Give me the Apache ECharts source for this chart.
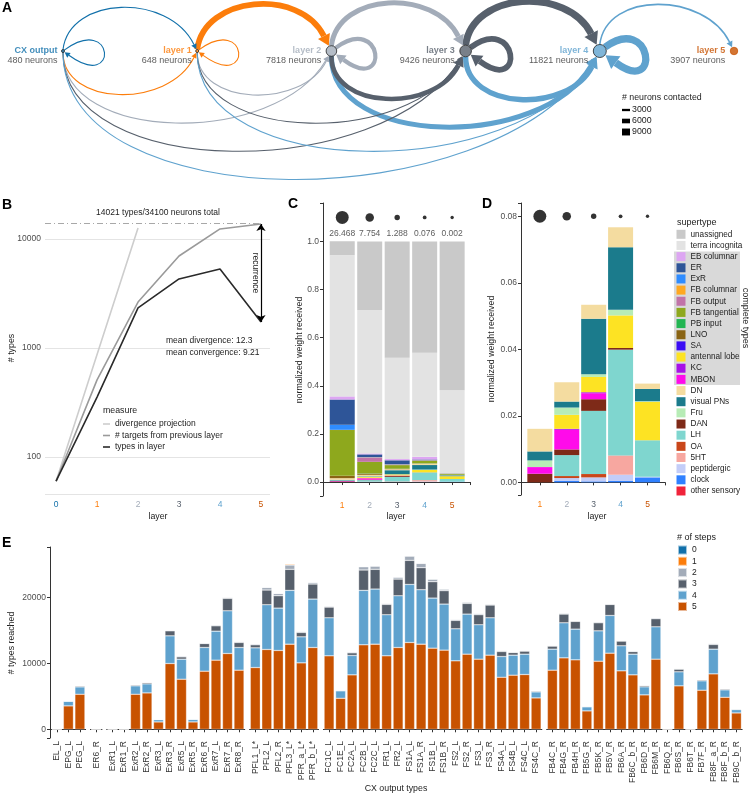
<!DOCTYPE html>
<html>
<head>
<meta charset="utf-8">
<script src="https://cdn.jsdelivr.net/npm/echarts@6.0.0/dist/echarts.min.js"></script>
<style>
html,body{margin:0;padding:0;background:#fff;}
#chart{width:749px;height:795px;}
</style>
</head>
<body>
<div id="chart"></div>
<script>
// ================= DATA =================
// Panel A : layers and connections
const layerNames = ['CX output', 'layer 1', 'layer 2', 'layer 3', 'layer 4', 'layer 5'];
const layerNeurons = [480, 648, 7818, 9426, 11821, 3907];
const edgeFrom    = [0, 0, 1, 1, 1, 2, 2, 2, 2, 3, 3, 3, 3, 3, 4, 4, 4, 4, 4, 4];
const edgeTo      = [0, 1, 0, 1, 2, 0, 1, 2, 3, 0, 1, 2, 3, 4, 0, 1, 2, 3, 4, 5];
const edgeNeurons = [1400, 1400, 1400, 1400, 7500, 1400, 1400, 5500, 6500, 1400, 1400, 6000, 7500, 9000, 1400, 1400, 6500, 7000, 9500, 2000];
const widthLegendValues = [3000, 6000, 9000];

// Panel B : types per layer (log scale)
const bLayers = [0, 1, 2, 3, 4, 5];
const typesInLayer = [60, 355, 2330, 4300, 5300, 1730];
const targetsFromPrevious = [60, 510, 2640, 6980, 12360, 13730];
const divergenceProjection = [60, 870, 12600];
const totalTypes = 14021;

// Panels C and D : normalized weight received per supertype, layers 1..5
const cdLayers = [1, 2, 3, 4, 5];
const meanWeight = [26.468, 7.754, 1.288, 0.076, 0.002];
const unassigned     = [0.058, 0.285, 0.483, 0.462, 0.618];
const terraIncognita = [0.5869, 0.596, 0.4216, 0.4333, 0.345];
const ebColumnar     = [0.013, 0.004, 0.005, 0.011, 0.001];
const er             = [0.105, 0.011, 0.016, 0.003, 0.0002];
const exr            = [0.021, 0.001, 0.001, 0.0005, 0.0003];
const fbColumnar     = [0.001, 0.001, 0.001, 0.001, 0];
const fbOutput       = [0, 0.018, 0.002, 0.001, 0.0003];
const fbTangential   = [0.190, 0.0479, 0.015, 0.010, 0.005];
const pbInput        = [0, 0.001, 0.001, 0.0005, 0];
const lno            = [0.010, 0.005, 0.001, 0.001, 0.0005];
const sa             = [0, 0, 0, 0, 0];
const antennalLobe   = [0, 0.0042, 0.0046, 0.0098, 0.0115];
const kc             = [0, 0.0003, 0.0003, 0, 0];
const mbon           = [0.002, 0.0059, 0.0018, 0, 0];
const dn             = [0.0068, 0.0058, 0.0042, 0.006, 0.0016];
const visualPNs      = [0.0027, 0.0018, 0.0167, 0.0188, 0.0037];
const fru            = [0.002, 0.0022, 0.0008, 0.0017, 0.0002];
const dan            = [0.0026, 0.0017, 0.0035, 0.0005, 0];
const lh             = [0, 0.0063, 0.019, 0.0318, 0.011];
const oa             = [0, 0.0006, 0.001, 0, 0];
const ht5            = [0, 0, 0, 0.0058, 0];
const peptidergic    = [0, 0.0008, 0.0012, 0.0018, 0.0002];
const clock          = [0, 0.0005, 0.0003, 0.0005, 0.0015];
const otherSensory   = [0, 0, 0, 0, 0];

const supertypeNames = ['unassigned', 'terra incognita', 'EB columnar', 'ER', 'ExR', 'FB columnar', 'FB output',
  'FB tangential', 'PB input', 'LNO', 'SA', 'antennal lobe', 'KC', 'MBON', 'DN', 'visual PNs', 'Fru', 'DAN',
  'LH', 'OA', '5HT', 'peptidergic', 'clock', 'other sensory'];
const supertypeValues = {
  'unassigned': unassigned, 'terra incognita': terraIncognita, 'EB columnar': ebColumnar, 'ER': er, 'ExR': exr,
  'FB columnar': fbColumnar, 'FB output': fbOutput, 'FB tangential': fbTangential, 'PB input': pbInput, 'LNO': lno,
  'SA': sa, 'antennal lobe': antennalLobe, 'KC': kc, 'MBON': mbon, 'DN': dn, 'visual PNs': visualPNs, 'Fru': fru,
  'DAN': dan, 'LH': lh, 'OA': oa, '5HT': ht5, 'peptidergic': peptidergic, 'clock': clock, 'other sensory': otherSensory
};
// stacking order, bottom to top
const stackOrder = ['other sensory', 'clock', 'peptidergic', '5HT', 'OA', 'LH', 'DAN', 'MBON', 'KC', 'antennal lobe',
  'Fru', 'visual PNs', 'DN', 'SA', 'LNO', 'PB input', 'FB tangential', 'FB output', 'FB columnar', 'ExR', 'ER',
  'EB columnar', 'terra incognita', 'unassigned'];
const dTypes = stackOrder.slice(0, 13);

// Panel E : types reached by number of steps
const eCategories = ['EL_L', 'EPG_L', 'PEG_L', 'ER6_R',
  'ExR1_L', 'ExR1_R', 'ExR2_L', 'ExR2_R', 'ExR3_L', 'ExR3_R', 'ExR5_L', 'ExR5_R', 'ExR6_R', 'ExR7_L', 'ExR7_R', 'ExR8_R',
  'PFL1_L*', 'PFL2_L', 'PFL2_R', 'PFL3_L*', 'PFR_a_L*', 'PFR_b_L*',
  'FC1C_L', 'FC1E_L', 'FC2A_L', 'FC2B_L', 'FC2C_L', 'FR1_L', 'FR2_L', 'FS1A_L', 'FS1A_R', 'FS1B_L', 'FS1B_R', 'FS2_L',
  'FS2_R', 'FS3_L', 'FS3_R', 'FS4A_L', 'FS4B_L', 'FS4C_L', 'FS4C_R',
  'FB4C_R', 'FB4G_R', 'FB4H_R', 'FB5G_R', 'FB5K_R', 'FB5V_R', 'FB6A_R', 'FB6C_b_R', 'FB6D_R', 'FB6M_R', 'FB6Q_R',
  'FB6S_R', 'FB6T_R', 'FB7F_R', 'FB8F_a_R', 'FB8F_b_R', 'FB9C_b_R'];
const eGroupSizes = [3, 1, 12, 6, 19, 17];
const steps5 = [60, 3550, 5320, 60, 60, 60, 5320, 5520, 1115, 9980, 7600, 1115, 8815, 10490, 11500, 8970,
  9370, 12110, 11960, 12920, 10080, 12410,
  11150, 4710, 8260, 12820, 12920, 11150, 12410, 13170, 12920, 12310, 12010, 10390, 11400, 10640, 11250, 7900, 8210, 8310, 4760,
  8970, 10840, 10540, 2790, 10330, 11550, 8870, 8260, 5220, 10640, 60, 6590, 60, 5930, 8410, 4860, 2480];
const steps4 = [0, 700, 1110, 0, 0, 0, 1270, 1370, 350, 4200, 3040, 400, 3600, 4400, 6480, 3440,
  2990, 6790, 6430, 8160, 3950, 7350,
  5770, 1120, 2940, 8260, 8360, 6230, 7850, 8810, 8260, 7600, 6990, 4860, 6080, 5220, 5670, 3140, 3040, 3090, 910,
  3190, 5320, 4660, 610, 4610, 5720, 3800, 3140, 1220, 4910, 0, 2130, 0, 1420, 3750, 1120, 510];
const steps3 = [0, 60, 150, 0, 0, 0, 150, 200, 50, 760, 350, 50, 600, 810, 1880, 760,
  460, 2230, 1870, 3190, 660, 2280,
  1620, 100, 400, 3090, 2990, 1570, 2530, 3650, 3340, 2480, 2030, 1270, 1620, 1520, 1930, 760, 400, 460, 150,
  460, 1320, 1170, 100, 1220, 1670, 710, 400, 200, 1220, 0, 400, 0, 150, 710, 150, 100];
const steps2 = [0, 20, 50, 0, 0, 0, 40, 40, 20, 100, 150, 20, 100, 150, 150, 150,
  150, 400, 350, 650, 150, 250,
  150, 30, 150, 500, 500, 150, 300, 660, 660, 400, 250, 150, 200, 200, 150, 150, 100, 100, 40,
  100, 150, 100, 20, 150, 100, 100, 100, 50, 150, 0, 100, 0, 50, 150, 50, 20];
const steps1 = [0, 0, 0, 0, 0, 0, 0, 0, 0, 10, 10, 0, 10, 10, 10, 10,
  10, 20, 20, 150, 10, 20,
  10, 0, 10, 20, 20, 10, 20, 30, 30, 20, 20, 10, 10, 10, 10, 10, 10, 10, 0,
  10, 10, 10, 0, 10, 10, 10, 10, 0, 10, 0, 10, 0, 0, 10, 0, 0];
const steps0 = eCategories.map(() => 1);
const stepValues = {'0': steps0, '1': steps1, '2': steps2, '3': steps3, '4': steps4, '5': steps5};

// ================= STYLE =================
const FONT = '"Liberation Sans", Arial, Helvetica, sans-serif';
const layerColors = ['#1170aa', '#fc7d0b', '#a3acb9', '#57606c', '#5fa2ce', '#c85200'];
const stepColors = {'0': '#1170aa', '1': '#fc7d0b', '2': '#a3acb9', '3': '#57606c', '4': '#5fa2ce', '5': '#c85200'};
const supertypeColors = {
  'unassigned': '#c9c9c9', 'terra incognita': '#e3e3e3', 'EB columnar': '#dda6f2', 'ER': '#2e5598', 'ExR': '#2f8cff',
  'FB columnar': '#ffa820', 'FB output': '#c173a8', 'FB tangential': '#8ea81d', 'PB input': '#22b552', 'LNO': '#8a6414',
  'SA': '#3a0cf5', 'antennal lobe': '#fde323', 'KC': '#a711e8', 'MBON': '#ff0bea', 'DN': '#f4dca0',
  'visual PNs': '#1b7b8c', 'Fru': '#b7ecb6', 'DAN': '#7e2a18', 'LH': '#7fd6cf', 'OA': '#c9461a', '5HT': '#f7a7a0',
  'peptidergic': '#c3cdf8', 'clock': '#2f80ff', 'other sensory': '#f0233a'
};

function nodeSize(n) { return Math.max(3, 0.12 * Math.sqrt(n)); }
function nodeR(i) { return nodeSize(layerNeurons[i]) / 2; }
function edgeW(n) { return Math.max(1.1, n / 1300); }
function unit(v) { const l = Math.hypot(v[0], v[1]) || 1; return [v[0] / l, v[1] / l]; }

function renderEdge(params, api) {
  const s = api.value(0), t = api.value(1), n = api.value(2);
  const cs = api.coord([s, 0]), ct = api.coord([t, 0]);
  const w = edgeW(n), col = layerColors[s];
  const al = 4 + 1.2 * w, aw = 2 + 0.8 * w;
  let P0, P1, P2, C, rA;
  if (s === t) {
    const x = cs[0], y = cs[1], r = nodeR(s);
    P1 = [x + 52, y - 38]; P2 = [x + 52, y + 38];
    const u0 = unit([P1[0] - x, P1[1] - y]);
    P0 = [x + u0[0] * r, y + u0[1] * r];
    C = cs; rA = r;
  } else if (t > s) {
    const dx = ct[0] - cs[0], h = 0.3 * dx, y = cs[1], r0 = nodeR(s);
    P0 = [cs[0], y - r0]; P1 = [cs[0] + 0.05 * dx, y - r0 - 4 / 3 * h]; P2 = [ct[0] - 0.2 * dx, y - 4 / 3 * h];
    C = ct; rA = nodeR(t);
  } else {
    const xl = ct[0], xr = cs[0], dx = xr - xl, h = 12 + 0.21 * dx, y = cs[1], rl = nodeR(t);
    P0 = [xl, y + rl]; P1 = [xl, y + rl + 4 / 3 * h]; P2 = [xr - 0.2 * dx, y + 4 / 3 * h];
    C = cs; rA = nodeR(s);
  }
  const u = unit([P2[0] - C[0], P2[1] - C[1]]);
  const tip = [C[0] + u[0] * (rA + 0.5), C[1] + u[1] * (rA + 0.5)];
  const d = unit([tip[0] - P2[0], tip[1] - P2[1]]);
  const base = [tip[0] - d[0] * al, tip[1] - d[1] * al];
  const P2b = [P2[0] - d[0] * al, P2[1] - d[1] * al];
  const nr = [-d[1], d[0]];
  return {
    type: 'group', children: [
      {type: 'bezierCurve', shape: {x1: P0[0], y1: P0[1], cpx1: P1[0], cpy1: P1[1], cpx2: P2b[0], cpy2: P2b[1], x2: base[0], y2: base[1]},
        style: {stroke: col, lineWidth: w, fill: 'none'}},
      {type: 'polygon', shape: {points: [tip, [base[0] + nr[0] * aw, base[1] + nr[1] * aw], [base[0] - nr[0] * aw, base[1] - nr[1] * aw]]},
        style: {fill: col}}
    ]
  };
}

function txt(text, x, y, o) {
  o = o || {};
  return {type: 'text', x: x, y: y, rotation: o.rot || 0, z: 10, silent: true,
    style: {text: text, fill: o.color || '#222', fontSize: o.size || 8.5, fontFamily: FONT, fontWeight: o.weight || 'normal',
      align: o.align || 'center', verticalAlign: 'middle'}};
}

// ================= LAYOUT =================
const grids = [
  {left: 63, top: 0, width: 671, height: 102},          // A
  {left: 45, top: 205, width: 225, height: 289},        // B
  {left: 323, top: 203, width: 147, height: 293},       // C
  {left: 521, top: 203, width: 144, height: 292}        // D
];
const eSpacing = 11.5, eGap = 2.5;
let panelLeft = 50;
const eGridIdx = [];
eGroupSizes.forEach((n) => {
  eGridIdx.push(grids.length);
  grids.push({left: panelLeft + 0.1 * eSpacing, top: 547, width: n * eSpacing, height: 191});
  panelLeft += (n + 0.2) * eSpacing + eGap;
});

const axisTxt = {fontFamily: FONT, fontSize: 8.5, color: '#4d4d4d'};
const layerRich = {};
layerColors.forEach((c, i) => { layerRich['l' + i] = {color: c, fontSize: 8.5, fontFamily: FONT}; });

const xAxes = [
  {gridIndex: 0, type: 'value', min: 0, max: 5, show: false},
  {gridIndex: 1, type: 'value', min: -0.27, max: 5.22, splitNumber: 5,
    axisLine: {show: false}, axisTick: {show: false}, splitLine: {show: false},
    axisLabel: {margin: 6, formatter: v => Number.isInteger(v) ? '{l' + v + '|' + v + '}' : '', rich: layerRich}},
  {gridIndex: 2, type: 'value', min: 0.3, max: 5.65, splitNumber: 5,
    axisLine: {show: true, lineStyle: {color: '#333', width: 1}}, axisTick: {show: true, length: 3, lineStyle: {color: '#333'}},
    splitLine: {show: false},
    axisLabel: {margin: 5, formatter: v => Number.isInteger(v) ? '{l' + v + '|' + v + '}' : '', rich: layerRich}},
  {gridIndex: 3, type: 'value', min: 0.3, max: 5.65, splitNumber: 5,
    axisLine: {show: true, lineStyle: {color: '#333', width: 1}}, axisTick: {show: true, length: 3, lineStyle: {color: '#333'}},
    splitLine: {show: false},
    axisLabel: {margin: 5, formatter: v => Number.isInteger(v) ? '{l' + v + '|' + v + '}' : '', rich: layerRich}}
];
const yAxes = [
  {gridIndex: 0, type: 'value', min: -1, max: 1, show: false},
  {gridIndex: 1, type: 'log', logBase: 10, min: 45.8, max: 20500,
    axisLine: {show: false}, axisTick: {show: false},
    splitLine: {show: true, showMinLine: true, showMaxLine: false, lineStyle: {color: '#e4e4e4', width: 1}},
    axisLabel: Object.assign({margin: 4, formatter: v => {
      const lv = Math.log10(v), r = Math.round(lv);
      return (Math.abs(lv - r) < 1e-6 && r >= 2 && r <= 4) ? String(Math.pow(10, r)) : '';
    }}, axisTxt)},
  {gridIndex: 2, type: 'value', min: -0.058, max: 1.16, splitNumber: 6,
    axisLine: {show: true, lineStyle: {color: '#333', width: 1}}, axisTick: {show: true, length: 3, lineStyle: {color: '#333'}},
    splitLine: {show: false},
    axisLabel: Object.assign({margin: 4, formatter: v => (v > -1e-9 && v < 1.0001) ? v.toFixed(1) : ''}, axisTxt)},
  {gridIndex: 3, type: 'value', min: -0.0038, max: 0.084, splitNumber: 4,
    axisLine: {show: true, lineStyle: {color: '#333', width: 1}}, axisTick: {show: true, length: 3, lineStyle: {color: '#333'}},
    splitLine: {show: false},
    axisLabel: Object.assign({margin: 4, formatter: v => (v > -1e-9 && v < 0.0801) ? v.toFixed(2) : ''}, axisTxt)}
];

let start = 0;
eGroupSizes.forEach((n, g) => {
  const gi = eGridIdx[g];
  xAxes.push({gridIndex: gi, type: 'category', data: eCategories.slice(start, start + n),
    axisLine: {show: true, lineStyle: {color: '#333', width: 1}},
    axisTick: {show: true, alignWithLabel: true, length: 3, lineStyle: {color: '#333'}},
    axisLabel: {interval: 0, rotate: 90, margin: 3, fontFamily: FONT, fontSize: 8.5, color: '#333'}});
  yAxes.push({gridIndex: gi, type: 'value', min: -1322, max: 27660, splitNumber: 3, show: g === 0, offset: 1.15,
    axisLine: {show: true, lineStyle: {color: '#333', width: 1}}, axisTick: {show: true, length: 3, lineStyle: {color: '#333'}},
    splitLine: {show: false},
    axisLabel: Object.assign({margin: 4, formatter: v => (v >= 0 && v % 10000 === 0) ? String(v) : ''}, axisTxt)});
  start += n;
});

// ================= SERIES =================
const series = [];
// A: edges
const edgeData = edgeFrom.map((f, i) => [f, edgeTo[i], edgeNeurons[i]]).sort((a, b) => b[2] - a[2]);
series.push({type: 'custom', xAxisIndex: 0, yAxisIndex: 0, clip: false, silent: true, renderItem: renderEdge,
  data: edgeData, z: 2});
// A: nodes
const nodeRich = {b: {color: '#333', fontSize: 9, fontFamily: FONT, lineHeight: 10}};
layerColors.forEach((c, i) => { nodeRich['a' + i] = {color: c, fontSize: 9, fontWeight: 'bold', fontFamily: FONT, lineHeight: 10}; });
series.push({type: 'scatter', xAxisIndex: 0, yAxisIndex: 0, z: 5, silent: true,
  data: layerNeurons.map((n, i) => ({value: [i, 0, n], itemStyle: {color: layerColors[i], borderColor: i === 5 ? layerColors[i] : '#111', borderWidth: 0.9},
    label: {distance: 3.5 + (i >= 2 ? 1 : 0)}})),
  symbolSize: d => nodeSize(d[2]),
  label: {show: true, position: 'left', distance: 4, offset: [0, 5], align: 'right',
    formatter: p => '{a' + p.dataIndex + '|' + layerNames[p.dataIndex] + '}\n{b|' + p.value[2] + ' neurons}',
    rich: nodeRich}});

// B: lines
series.push({type: 'line', name: 'divergence projection', xAxisIndex: 1, yAxisIndex: 1, symbol: 'none', z: 2,
  data: divergenceProjection.map((v, i) => [bLayers[i], v]),
  lineStyle: {color: '#cdcdcd', width: 1.6}, itemStyle: {color: '#cdcdcd'}});
series.push({type: 'line', name: '# targets from previous layer', xAxisIndex: 1, yAxisIndex: 1, symbol: 'none', z: 3,
  data: targetsFromPrevious.map((v, i) => [bLayers[i], v]),
  lineStyle: {color: '#9a9a9a', width: 1.6}, itemStyle: {color: '#9a9a9a'},
  markLine: {silent: true, symbol: ['none', 'none'], label: {show: false}, animation: false,
    lineStyle: {color: '#a8a8a8', width: 1, type: [6, 3, 1, 3]},
    data: [[{coord: [-0.27, totalTypes]}, {coord: [bLayers[5], totalTypes]}]]}});
series.push({type: 'line', name: 'types in layer', xAxisIndex: 1, yAxisIndex: 1, symbol: 'none', z: 4,
  data: typesInLayer.map((v, i) => [bLayers[i], v]),
  lineStyle: {color: '#2a2a2a', width: 1.6}, itemStyle: {color: '#2a2a2a'},
  markLine: {silent: true, symbol: ['arrow', 'arrow'], symbolSize: 7, label: {show: false}, animation: false,
    lineStyle: {color: '#000', width: 1.2, type: 'solid'},
    data: [[{coord: [bLayers[5], targetsFromPrevious[5]]}, {coord: [bLayers[5], typesInLayer[5]]}]]}});

// C: stacked bars
stackOrder.forEach(name => {
  series.push({type: 'bar', name: name, xAxisIndex: 2, yAxisIndex: 2, stack: 'c', barWidth: 25, silent: true,
    encode: {x: 1, y: 0},
    data: supertypeValues[name].map((v, i) => [v, cdLayers[i]]),
    itemStyle: {color: supertypeColors[name]}});
});
series.push({type: 'scatter', xAxisIndex: 2, yAxisIndex: 2, silent: true, z: 5,
  data: meanWeight.map((v, i) => [cdLayers[i], 1.1, v]),
  symbolSize: d => 3.3 + 1.87 * Math.sqrt(d[2]), itemStyle: {color: '#000'},
  label: {show: true, position: 'inside', offset: [0, 16], color: '#333', fontSize: 8.5, fontFamily: FONT,
    formatter: p => p.value[2].toFixed(3)}});
// D: stacked bars (non-CX supertypes)
dTypes.forEach(name => {
  series.push({type: 'bar', name: name, xAxisIndex: 3, yAxisIndex: 3, stack: 'd', barWidth: 25, silent: true,
    encode: {x: 1, y: 0},
    data: supertypeValues[name].map((v, i) => [v, cdLayers[i]]),
    itemStyle: {color: supertypeColors[name]}});
});
series.push({type: 'scatter', xAxisIndex: 3, yAxisIndex: 3, silent: true, z: 5,
  data: meanWeight.map((v, i) => [cdLayers[i], 0.08, v]),
  symbolSize: d => 3.3 + 1.87 * Math.sqrt(d[2]), itemStyle: {color: '#000'}});

// E: stacked bars per group
start = 0;
eGroupSizes.forEach((n, g) => {
  const axisIdx = 4 + g;
  ['5', '4', '3', '2', '1', '0'].forEach(step => {
    series.push({type: 'bar', name: step, xAxisIndex: axisIdx, yAxisIndex: axisIdx, stack: 'e' + g, barWidth: 10, silent: true,
      data: stepValues[step].slice(start, start + n),
      itemStyle: {color: stepColors[step], borderColor: 'rgba(255,255,255,0.6)', borderWidth: 0.5}});
  });
  start += n;
});

// ================= GRAPHICS (titles, annotations) =================
const graphic = [
  txt('A', 2, 8, {align: 'left', size: 14, weight: 'bold', color: '#000'}),
  txt('B', 2, 205, {align: 'left', size: 14, weight: 'bold', color: '#000'}),
  txt('C', 288, 204, {align: 'left', size: 14, weight: 'bold', color: '#000'}),
  txt('D', 482, 204, {align: 'left', size: 14, weight: 'bold', color: '#000'}),
  txt('E', 2, 543, {align: 'left', size: 14, weight: 'bold', color: '#000'}),
  // A legend
  txt('# neurons contacted', 622, 98, {align: 'left', size: 8.8}),
  // B texts
  txt('14021 types/34100 neurons total', 158, 213, {size: 8.5}),
  txt('recurrence', 255, 273, {rot: -Math.PI / 2, size: 8.5}),
  txt('mean divergence: 12.3', 166, 341, {align: 'left', size: 8.5}),
  txt('mean convergence: 9.21', 166, 353, {align: 'left', size: 8.5}),
  txt('measure', 103, 411, {align: 'left', size: 8.8}),
  txt('# types', 12, 348, {rot: Math.PI / 2, size: 8.8}),
  txt('layer', 158, 517, {size: 8.8}),
  // C / D
  txt('normalized weight received', 300, 350, {rot: Math.PI / 2, size: 8.8}),
  txt('layer', 396, 517, {size: 8.8}),
  txt('normalized weight received', 492, 349, {rot: Math.PI / 2, size: 8.8}),
  txt('layer', 597, 517, {size: 8.8}),
  txt('supertype', 677, 223, {align: 'left', size: 9}),
  {type: 'rect', z: 0, silent: true, shape: {x: 674, y: 251.5, width: 66, height: 133.5}, style: {fill: '#d9d9d9'}},
  txt('complete types', 745, 318, {rot: -Math.PI / 2, size: 9}),
  // E
  txt('# types reached', 12, 643, {rot: Math.PI / 2, size: 8.8}),
  txt('CX output types', 396, 789, {size: 8.8}),
  txt('# of steps', 677, 538, {align: 'left', size: 9})
];
widthLegendValues.forEach((v, i) => {
  const y = 110 + i * 11, h = edgeW(v);
  graphic.push({type: 'rect', silent: true, shape: {x: 622, y: y - h / 2, width: 8, height: h}, style: {fill: '#000'}});
  graphic.push(txt(String(v), 632, y, {align: 'left', size: 8.8}));
});

const legendText = {fontFamily: FONT, fontSize: 8.2, color: '#222', lineHeight: 11};
const option = {
  animation: false,
  textStyle: {fontFamily: FONT},
  grid: grids,
  xAxis: xAxes,
  yAxis: yAxes,
  legend: [
    {orient: 'vertical', left: 676.5, top: 228.8, padding: 0, itemWidth: 9, itemHeight: 9, itemGap: 0.16, icon: 'rect',
      selectedMode: false, textStyle: legendText, data: supertypeNames},
    {orient: 'vertical', left: 677, top: 544.5, padding: 0, itemWidth: 9, itemHeight: 9, itemGap: 0.3, icon: 'rect',
      selectedMode: false, textStyle: Object.assign({}, legendText, {fontSize: 8.5}), data: ['0', '1', '2', '3', '4', '5']},
    {orient: 'vertical', left: 103, top: 418.5, padding: 0, itemWidth: 7, itemHeight: 1.6, itemGap: 0.5, icon: 'rect',
      selectedMode: false, textStyle: Object.assign({}, legendText, {fontSize: 8.5}), data: ['divergence projection', '# targets from previous layer', 'types in layer']}
  ],
  series: series,
  graphic: graphic
};
const chart = echarts.init(document.getElementById('chart'), null, {renderer: 'canvas', width: 749, height: 795});
chart.setOption(option);
</script>
</body>
</html>
